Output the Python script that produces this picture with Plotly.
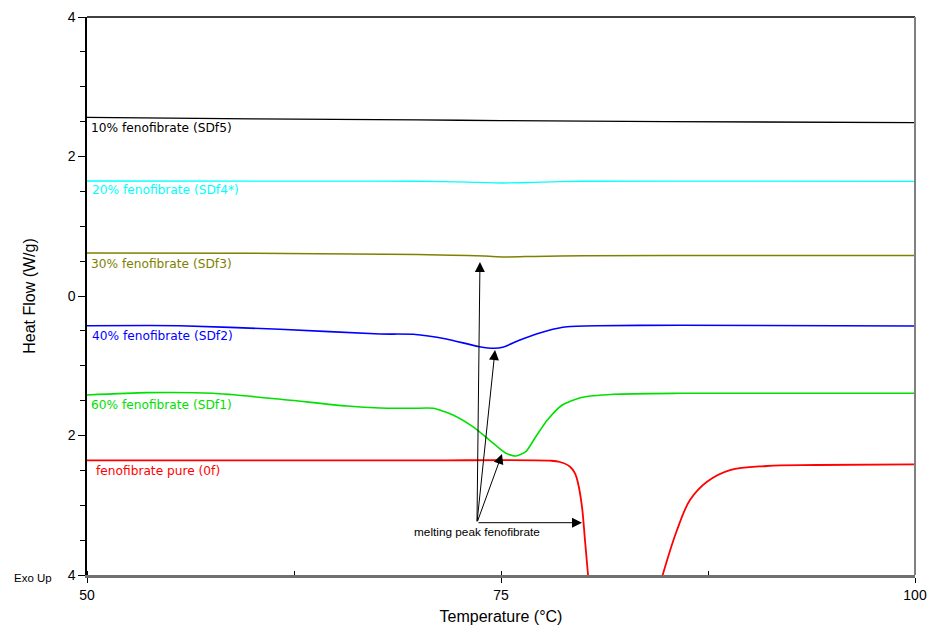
import plotly.graph_objects as go

# ---- data (Temperature °C, Heat Flow W/g) ----
sdf5_t = [50, 60, 70, 75, 85, 100]
sdf5_y = [2.56, 2.54, 2.525, 2.515, 2.50, 2.487]

sdf4_t = [50, 65, 70, 73, 75, 77, 80, 90, 100]
sdf4_y = [1.649, 1.648, 1.645, 1.632, 1.62, 1.63, 1.645, 1.646, 1.642]

sdf3_t = [50, 60, 68, 72, 74, 75.3, 77, 80, 90, 100]
sdf3_y = [0.616, 0.612, 0.60, 0.585, 0.573, 0.559, 0.568, 0.578, 0.58, 0.58]

sdf2_t = [50, 55.6, 61.65, 67.7, 69.7, 71.7, 73.7, 74.6, 75.1, 76.3, 77.8, 79.0, 80.8, 85.8, 100]
sdf2_y = [-0.426, -0.426, -0.477, -0.545, -0.549, -0.616, -0.727, -0.75, -0.735, -0.616, -0.497, -0.44, -0.426, -0.42, -0.43]

sdf1_t = [50, 53.6, 57.6, 61.7, 65.7, 67.7, 69.7, 70.9, 72.1, 73.3, 74.3, 75.3, 75.9, 76.5, 77.1, 77.8, 78.7, 79.8, 81.8, 85.8, 100]
sdf1_y = [-1.42, -1.386, -1.395, -1.48, -1.577, -1.605, -1.61, -1.61, -1.706, -1.874, -2.065, -2.255, -2.294, -2.232, -2.017, -1.778, -1.563, -1.458, -1.409, -1.395, -1.395]

pure_t = [50, 60, 70, 77.96, 78.56, 79.17, 79.47, 79.65, 79.89, 80.07, 80.25, 80.45, None,
          84.2, 84.78, 85.63, 86.41, 87.44, 88.83, 91.06, 94.08, 100]
pure_y = [-2.358, -2.358, -2.358, -2.361, -2.38, -2.447, -2.542, -2.681, -3.021, -3.498, -3.986, -4.5, None,
          -4.5, -3.986, -3.355, -2.925, -2.662, -2.495, -2.437, -2.423, -2.413]

series_names = ["10% fenofibrate (SDf5)", "20% fenofibrate (SDf4*)", "30% fenofibrate (SDf3)",
                "40% fenofibrate (SDf2)", "60% fenofibrate (SDf1)", "fenofibrate pure (0f)"]
series_colors = ["#000000", "#00FFFF", "#808000", "#0000FF", "#00E000", "#FF0000"]
label_y = [2.41, 1.52, 0.459, -0.573, -1.556, -2.509]
label_x = [50.12, 50.17, 50.12, 50.17, 50.12, 50.43]

# melting-peak arrows: origin and tips
arrow_origin = (73.55, -3.25)
arrow_tips = [(73.73, 0.487), (74.64, -0.774), (75.06, -2.265), (79.89, -3.25)]
arrow_text = "melting peak fenofibrate"

x_ticks = [50, 75, 100]
y_ticks = [4, 2, 0, -2, -4]
y_ticktext = ["4", "2", "0", "2", "4"]

FONT = "Liberation Sans, Arial, sans-serif"
LABEL_FONT = "DejaVu Sans, Verdana, sans-serif"

fig = go.Figure()
all_t = [sdf5_t, sdf4_t, sdf3_t, sdf2_t, sdf1_t, pure_t]
all_y = [sdf5_y, sdf4_y, sdf3_y, sdf2_y, sdf1_y, pure_y]
widths = [1.3, 1.3, 1.5, 1.6, 1.6, 1.8]
smooth = [0.5, 0.5, 0.5, 0.5, 0.6, 1.0]
for t, y, n, c, w, s in zip(all_t, all_y, series_names, series_colors, widths, smooth):
    fig.add_trace(go.Scatter(x=t, y=y, mode="lines", name=n,
                             line=dict(color=c, width=w, shape="spline", smoothing=s),
                             connectgaps=False, hoverinfo="skip"))

annotations = []
for n, c, lx, ly in zip(series_names, series_colors, label_x, label_y):
    annotations.append(dict(x=lx, y=ly, xref="x", yref="y", text=n, showarrow=False,
                            xanchor="left", yanchor="middle",
                            font=dict(family=LABEL_FONT, size=12.2, color=c)))
for tx, ty in arrow_tips:
    annotations.append(dict(x=tx, y=ty, xref="x", yref="y", ax=arrow_origin[0], ay=arrow_origin[1],
                            axref="x", ayref="y", text="", showarrow=True, arrowhead=2,
                            arrowsize=2, arrowwidth=1, arrowcolor="#000000", standoff=0))
annotations.append(dict(x=arrow_origin[0], y=arrow_origin[1], xref="x", yref="y", text=arrow_text,
                        showarrow=False, xanchor="center", yanchor="top", yshift=0,
                        font=dict(family=FONT, size=11.8, color="#000000")))
annotations.append(dict(x=-0.0906, y=0, xref="paper", yref="paper", text="Exo Up", showarrow=False,
                        xanchor="left", yanchor="middle", yshift=-3,
                        font=dict(family=FONT, size=11.5, color="#000000")))

fig.update_layout(
    width=927, height=625,
    margin=dict(l=87, r=12, t=17, b=50),
    paper_bgcolor="white", plot_bgcolor="white",
    showlegend=False,
    font=dict(family=FONT, color="#000000"),
    annotations=annotations,
    shapes=[
        dict(type="line", xref="paper", yref="paper", x0=0, x1=1, y0=1, y1=1,
             line=dict(color="#000000", width=1.5)),
        dict(type="line", xref="paper", yref="paper", x0=1, x1=1, y0=0, y1=1,
             line=dict(color="#808080", width=2)),
    ],
)
fig.update_xaxes(range=[50, 100], tickvals=x_ticks, ticks="outside", ticklen=5, tickwidth=1,
                 tickcolor="#000000", showline=True, linecolor="#707070", linewidth=2.5,
                 showgrid=False, zeroline=False, automargin=False,
                 minor=dict(dtick=12.5, tick0=50, ticks="inside", ticklen=4, tickcolor="#000000", showgrid=False),
                 tickfont=dict(family=FONT, size=14),
                 title=dict(text="Temperature (°C)", font=dict(family=FONT, size=16), standoff=10))
fig.update_yaxes(range=[-4, 4], tickvals=y_ticks, ticktext=y_ticktext, ticks="outside", ticklen=7,
                 tickwidth=1, tickcolor="#000000", showline=True, linecolor="#000000", linewidth=1.5,
                 showgrid=False, zeroline=False, automargin=False,
                 minor=dict(dtick=0.5, tick0=0, ticks="outside", ticklen=5, tickcolor="#000000", showgrid=False),
                 tickfont=dict(family=FONT, size=14),
                 title=dict(text="Heat Flow (W/g)", font=dict(family=FONT, size=16), standoff=28))

fig.write_html("out.html", config={"displayModeBar": False},
               post_script="document.body.style.margin='0';document.body.style.overflow='hidden';")
